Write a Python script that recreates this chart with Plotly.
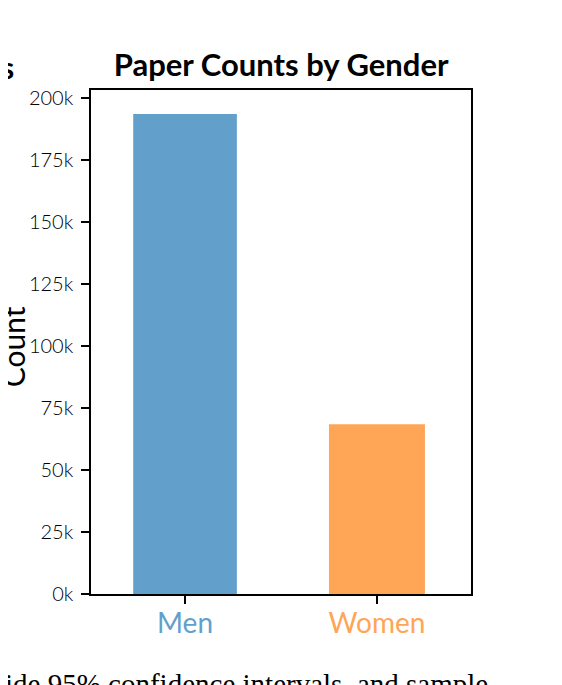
import plotly.graph_objects as go

# ── data ──────────────────────────────────────────────────────────────────────
categories = ["Men", "Women"]
paper_counts = [193500, 68400]
bar_colors = ["rgb(98,160,203)", "rgb(255,165,86)"]
y_tick_values = [0, 25000, 50000, 75000, 100000, 125000, 150000, 175000, 200000]
y_tick_labels = ["0k", "25k", "50k", "75k", "100k", "125k", "150k", "175k", "200k"]

FONT = "Lato, 'Open Sans', sans-serif"
SERIF = "'Liberation Serif', 'DejaVu Serif', serif"

# the page body adds an 8px offset, so the figure is 8px smaller than the window
fig = go.Figure()
fig.add_trace(
    go.Bar(
        x=list(range(len(categories))),
        y=paper_counts,
        width=[0.54, 0.5],
        marker=dict(color=bar_colors, line=dict(width=0)),
        hovertemplate="%{y}<extra></extra>",
    )
)

axis_line = dict(
    showline=True,
    mirror=True,
    linecolor="black",
    linewidth=1.5,
    showgrid=False,
    zeroline=False,
    ticks="outside",
    ticklen=8,
    tickwidth=1.5,
    tickcolor="black",
)

fig.update_layout(
    width=554,
    height=677,
    paper_bgcolor="white",
    plot_bgcolor="white",
    showlegend=False,
    margin=dict(l=83, r=91, t=82, b=91),
    font=dict(family=FONT, color="black"),
    title=dict(
        text="<b>Paper Counts by Gender</b>",
        font=dict(family=FONT, size=31, color="black"),
        x=0.493,
        xanchor="center",
        y=0.915,
        yanchor="middle",
    ),
    xaxis=dict(
        **axis_line,
        range=[-0.49, 1.49],
        tickvals=list(range(len(categories))),
        ticktext=[
            f"<span style='color:{c}'>{name}</span>"
            for name, c in zip(categories, bar_colors)
        ],
        tickfont=dict(family=FONT, size=28),
        ticklabelstandoff=-4,
    ),
    yaxis=dict(
        **axis_line,
        range=[0, 1.05 * max(paper_counts)],
        tickvals=y_tick_values,
        ticktext=y_tick_labels,
        tickfont=dict(family=FONT, size=20, weight=300),
        ticklabelstandoff=4,
    ),
)

# y-axis title, partly outside the visible crop
fig.add_annotation(
    text="Count",
    textangle=-90,
    xref="paper",
    yref="paper",
    x=-0.205,
    y=0.49,
    xanchor="center",
    yanchor="middle",
    showarrow=False,
    font=dict(family=FONT, size=30, color="black"),
)

# tail of the neighbouring panel's title
fig.add_annotation(
    text="<b>s</b>",
    xref="paper",
    yref="paper",
    x=-0.197,
    y=1.046,
    xanchor="right",
    yanchor="middle",
    showarrow=False,
    font=dict(family=FONT, size=30, color="black"),
)

# caption line cut off at the bottom edge
fig.add_annotation(
    text="ide 95% confidence intervals, and sample",
    xref="paper",
    yref="paper",
    x=-0.232,
    y=-0.143,
    xanchor="left",
    yanchor="top",
    showarrow=False,
    font=dict(family=SERIF, size=29, color="black"),
)

fig.write_html("out.html")
